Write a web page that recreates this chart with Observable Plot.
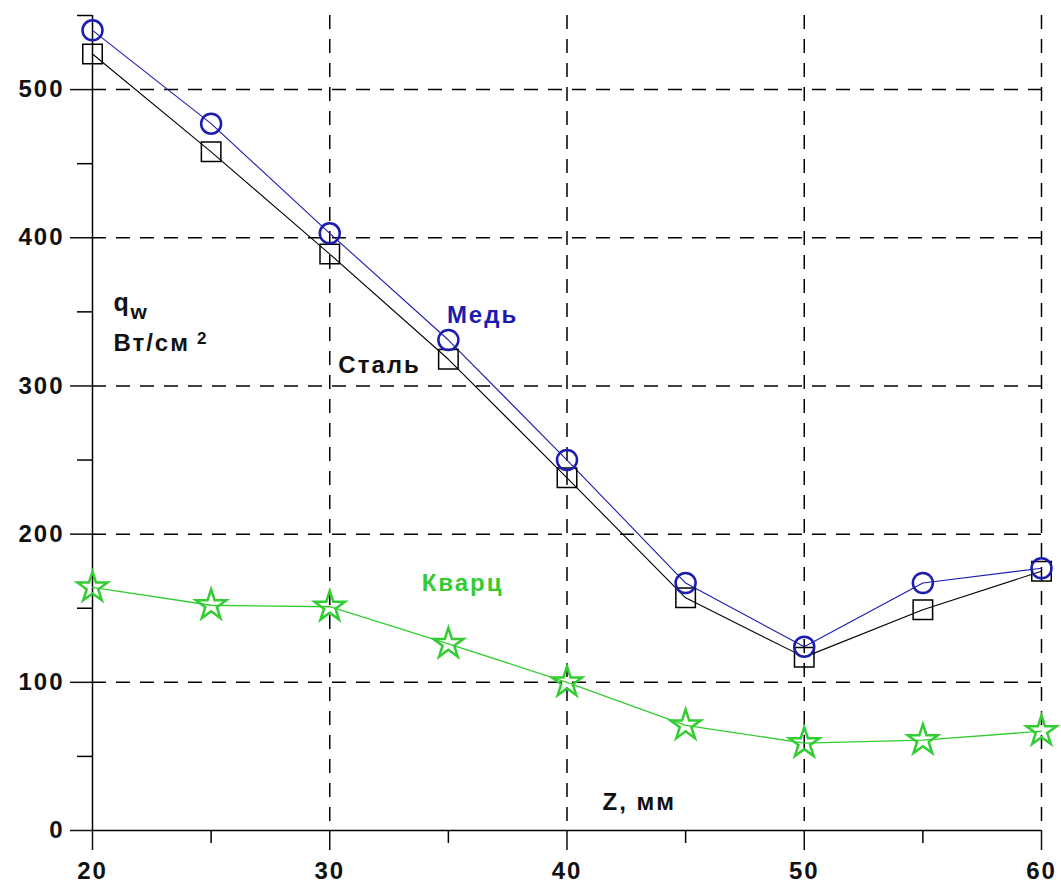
<!DOCTYPE html>
<html>
<head>
<meta charset="utf-8">
<script src="https://cdn.jsdelivr.net/npm/d3@7"></script>
<script src="https://cdn.jsdelivr.net/npm/@observablehq/plot@0.6"></script>
<style>
  html, body { margin: 0; padding: 0; background: #fff; }
  #chart svg { display: block; }
  #chart svg text { letter-spacing: 2px; }
</style>
</head>
<body>
<div id="chart"></div>
<script>
const zValues = [20, 25, 30, 35, 40, 45, 50, 55, 60];
const copper = [540, 477, 403, 331, 250, 167, 124, 167, 177];
const steel  = [524, 458, 389, 318, 238, 157, 117, 149, 175];
const quartz = [164, 152, 151, 126, 100, 71, 59, 61, 67];

const xMajorTicks = [20, 30, 40, 50, 60];
const xMinorTicks = [25, 35, 45, 55];
const yMajorTicks = [0, 100, 200, 300, 400, 500];
const yMinorTicks = [50, 150, 250, 350, 450, 550];
const xGrid = [30, 40, 50, 60];
const yGrid = [100, 200, 300, 400, 500];

const seriesLabels = [
  {name: "Медь", x: 36.44, y: 348, color: "#1c1cb0"},
  {name: "Сталь", x: 32.1, y: 314, color: "#111"},
  {name: "Кварц", x: 35.6, y: 167, color: "#33cc33"}
];
const axisLabels = [
  {text: "q", x: 20.88, y: 356, size: 25},
  {text: "w", x: 21.6, y: 350, size: 21},
  {text: "Вт/см", x: 20.88, y: 329, size: 24},
  {text: "2", x: 24.4, y: 332, size: 17},
  {text: "Z, мм", x: 41.5, y: 19, size: 24}
];

const mk = (vals) => zValues.map((z, i) => ({z, q: vals[i]}));
const cu = mk(copper), st = mk(steel), qz = mk(quartz);

const font = "'Liberation Sans', Arial, sans-serif";

const chart = Plot.plot({
  width: 1061,
  height: 884,
  marginLeft: 92,
  marginRight: 20,
  marginTop: 15,
  marginBottom: 54,
  style: {fontFamily: font, background: "#fff"},
  x: {domain: [20, 60]},
  y: {domain: [0, 550]},
  marks: [
    Plot.gridX(xGrid, {stroke: "#000", strokeOpacity: 1, strokeWidth: 1.5, strokeDasharray: "14,10"}),
    Plot.gridY(yGrid, {stroke: "#000", strokeOpacity: 1, strokeWidth: 1.5, strokeDasharray: "14,10"}),
    Plot.axisY(yMajorTicks, {tickSize: 22, tickPadding: 6, fontSize: 24, fontWeight: "bold", label: null, strokeWidth: 1.5, color: "#111"}),
    Plot.axisY(yMinorTicks, {tickSize: 15, text: null, label: null, strokeWidth: 1.5}),
    Plot.axisX(xMajorTicks, {tickSize: 20, tickPadding: 11, fontSize: 24, fontWeight: "bold", label: null, strokeWidth: 1.5, color: "#111"}),
    Plot.axisX(xMinorTicks, {tickSize: 13, text: null, label: null, strokeWidth: 1.5}),
    Plot.ruleX([20], {stroke: "#000", strokeWidth: 1.5}),
    Plot.ruleY([0], {stroke: "#000", strokeWidth: 1.5}),
    Plot.line(qz, {x: "z", y: "q", stroke: "#33cc33", strokeWidth: 1.3}),
    Plot.line(st, {x: "z", y: "q", stroke: "#000", strokeWidth: 1.1}),
    Plot.line(cu, {x: "z", y: "q", stroke: "#1c1cb0", strokeWidth: 1.1}),
    Plot.dot(qz, {x: "z", y: "q", symbol: "star", r: 9.5, stroke: "#33cc33", strokeWidth: 2.5, fill: "none"}),
    Plot.dot(st, {x: "z", y: "q", symbol: "square", r: 11, stroke: "#000", strokeWidth: 1.5, fill: "none"}),
    Plot.dot(cu, {x: "z", y: "q", symbol: "circle", r: 10, stroke: "#1c1cb0", strokeWidth: 2.5, fill: "none"}),
    Plot.text(seriesLabels, {x: "x", y: "y", text: "name", fill: "color", fontSize: 24, fontWeight: "bold"}),
    Plot.text(axisLabels, {x: "x", y: "y", text: "text", textAnchor: "start", fontSize: "size", fontWeight: "bold", fill: "#111"})
  ]
});
document.getElementById("chart").append(chart);
</script>
</body>
</html>
